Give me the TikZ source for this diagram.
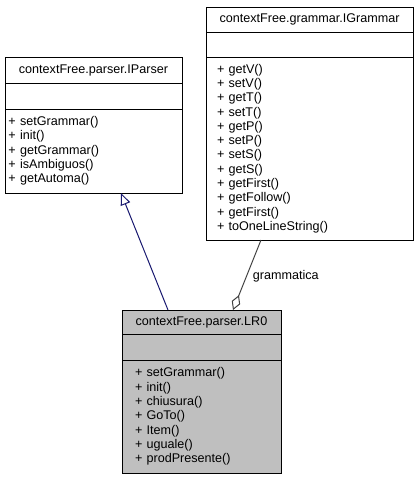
\documentclass[tikz,border=0pt]{standalone}
\usepackage{fontspec}
\setmainfont{Liberation Sans}
\usetikzlibrary{arrows.meta, positioning}
\definecolor{cnavy}{HTML}{191970}
\definecolor{cedge}{HTML}{404040}
\definecolor{cshade}{HTML}{BFBFBF}
\tikzset{
  every picture/.style={font=\fontsize{12.6}{14.3}\selectfont, line width=1pt},
  part/.style={draw=black, fill=#1, outer sep=0pt, inner sep=0pt},
  part/.default=white,
  head/.style={part=#1, align=center},
  head/.default=white,
  ops/.style={part=#1, align=left},
  ops/.default=white,
  inherit/.style={draw=cnavy, -{Triangle[length=12pt, width=10pt, fill=white]}},
  aggreg/.style={draw=cedge, {Diamond[length=16pt, width=9pt, fill=white]}-},
  lab/.style={inner sep=0pt},
}
\begin{document}
\begin{tikzpicture}[x=1pt, y=-1pt]
  \useasboundingbox (0,0) rectangle (417,480);
  % interface: parser
  \node[head, minimum width=177pt, minimum height=26pt] (ipt) at (93.5,70) {contextFree.parser.IParser};
  \node[part, minimum width=177pt, minimum height=26pt, below=0pt of ipt] (ipa) {};
  \node[ops, text width=170pt, inner xsep=3.5pt, minimum height=84pt, below=0pt of ipa] (ipo)
    {+ setGrammar()\\+ init()\\+ getGrammar()\\+ isAmbiguos()\\+ getAutoma()};
  % interface: grammar
  \node[head, minimum width=207pt, minimum height=25pt] (igt) at (309.5,19.5) {contextFree.grammar.IGrammar};
  \node[part, minimum width=207pt, minimum height=25pt, below=0pt of igt] (iga) {};
  \node[ops, text width=185pt, inner xsep=11pt, minimum height=183pt, below=0pt of iga] (igo)
    {+ getV()\\+ setV()\\+ getT()\\+ setT()\\+ getP()\\+ setP()\\+ setS()\\+ getS()\\+ getFirst()\\+ getFollow()\\+ getFirst()\\+ toOneLineString()};
  % class LR0
  \node[head=cshade, minimum width=159pt, minimum height=24pt] (lrt) at (201.5,322) {contextFree.parser.LR0};
  \node[part=cshade, minimum width=159pt, minimum height=26pt, below=0pt of lrt] (lra) {};
  \node[ops=cshade, text width=133pt, inner xsep=13pt, minimum height=113pt, below=0pt of lra] (lro)
    {+ setGrammar()\\+ init()\\+ chiusura()\\+ GoTo()\\+ Item()\\+ uguale()\\+ prodPresente()};
  % relations
  \draw[inherit] ([xshift=-33.5pt]lrt.north) -- ([xshift=27.5pt]ipo.south);
  \draw[aggreg] ([xshift=31.5pt]lrt.north) -- node[lab, pos=0.48, right=6pt] {grammatica} ([xshift=-48.5pt]igo.south);
\end{tikzpicture}
\end{document}
